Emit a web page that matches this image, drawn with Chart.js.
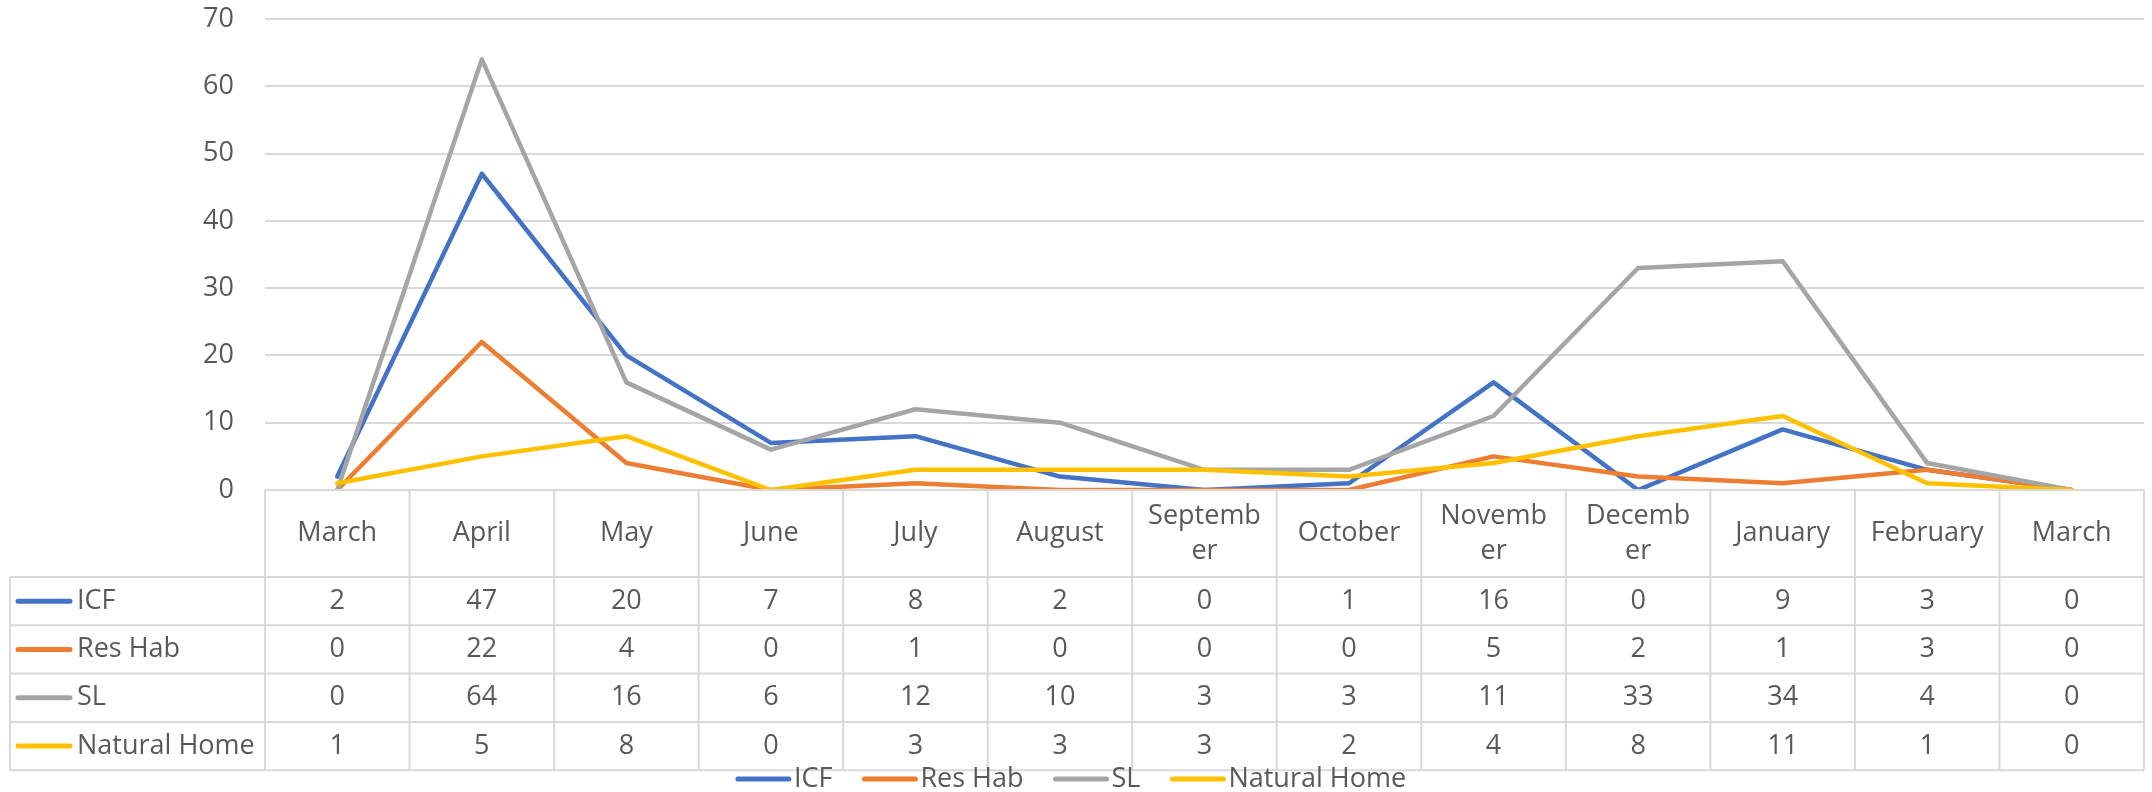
<!DOCTYPE html>
<html>
<head>
<meta charset="utf-8">
<script src="https://cdn.jsdelivr.net/npm/chart.js@4/dist/chart.umd.min.js"></script>
<style>
  html, body { margin:0; padding:0; background:#fff; }
  canvas { display:block; }
</style>
</head>
<body>
<canvas id="chart" width="2152" height="792"></canvas>
<script>
// data
const categories = ["March","April","May","June","July","August",["Septemb","er"],"October",["Novemb","er"],["Decemb","er"],"January","February","March"];
const seriesNames = ["ICF","Res Hab","SL","Natural Home"];
const seriesColors = ["#4472C4","#ED7D31","#A5A5A5","#FFC000"];
const icf = [2,47,20,7,8,2,0,1,16,0,9,3,0];
const resHab = [0,22,4,0,1,0,0,0,5,2,1,3,0];
const sl = [0,64,16,6,12,10,3,3,11,33,34,4,0];
const naturalHome = [1,5,8,0,3,3,3,2,4,8,11,1,0];
const seriesValues = [icf, resHab, sl, naturalHome];
const yTicks = [0,10,20,30,40,50,60,70];

const FONT = "'Open Sans', sans-serif";
const FSIZE = 27;
const TXT = "#595959";
const GRID = "#d9d9d9";

const HEAD_H = 87, ROW_H = 48.3, TABLE_LEFT = 10;

function seg(ctx, x1, y1, x2, y2){
  ctx.beginPath(); ctx.moveTo(x1,y1); ctx.lineTo(x2,y2); ctx.stroke();
}

// excel-like data table under the plot + legend at the bottom
const tablePlugin = {
  id: "dataTable",
  afterDraw(chart){
    const ctx = chart.ctx, a = chart.chartArea, x = chart.scales.x;
    const n = categories.length;
    const half = (x.getPixelForValue(1) - x.getPixelForValue(0)) / 2;
    const top = a.bottom;
    const rowsTop = top + HEAD_H;
    const bottom = rowsTop + ROW_H * seriesNames.length;
    const right = x.getPixelForValue(n-1) + half;

    ctx.save();
    ctx.strokeStyle = GRID;
    ctx.lineWidth = 2;
    seg(ctx, x.getPixelForValue(0) - half, top, right, top);
    for(let i=0;i<=seriesNames.length;i++){
      const y = rowsTop + ROW_H*i;
      seg(ctx, TABLE_LEFT, y, right, y);
    }
    for(let i=0;i<=n;i++){
      const xx = x.getPixelForValue(0) - half + half*2*i;
      seg(ctx, xx, top, xx, bottom);
    }
    seg(ctx, TABLE_LEFT, rowsTop, TABLE_LEFT, bottom);

    ctx.fillStyle = TXT;
    ctx.font = FSIZE + "px " + FONT;
    ctx.textAlign = "center";
    ctx.textBaseline = "middle";
    categories.forEach((c,i)=>{
      const cx = x.getPixelForValue(i);
      const lines = Array.isArray(c) ? c : [c];
      const lh = 35;
      const y0 = top + HEAD_H/2 - (lines.length-1)*lh/2;
      lines.forEach((t,k)=> ctx.fillText(t, cx, y0 + k*lh));
    });
    seriesValues.forEach((vals,s)=>{
      const cy = rowsTop + ROW_H*s + ROW_H/2;
      vals.forEach((v,i)=> ctx.fillText(String(v), x.getPixelForValue(i), cy));
      ctx.strokeStyle = seriesColors[s];
      ctx.lineWidth = 5;
      ctx.lineCap = "round";
      seg(ctx, 18, cy, 70, cy);
      ctx.textAlign = "left";
      ctx.fillText(seriesNames[s], 77, cy);
      ctx.textAlign = "center";
    });

    // legend
    const ly = 779, lineLen = 55, gap = 3, spacing = 30;
    const widths = seriesNames.map(t => ctx.measureText(t).width);
    const total = widths.reduce((s,w)=>s + lineLen + gap + w, 0) + spacing*(seriesNames.length-1);
    let lx = 1071 - total/2;
    ctx.textAlign = "left";
    seriesNames.forEach((t,s)=>{
      ctx.strokeStyle = seriesColors[s];
      ctx.lineWidth = 5;
      seg(ctx, lx+2, ly, lx+lineLen-2, ly);
      ctx.fillText(t, lx + lineLen + gap, ly);
      lx += lineLen + gap + widths[s] + spacing;
    });
    ctx.restore();
  }
};

const datasets = seriesNames.map((name,s)=>({
  label: name,
  data: seriesValues[s],
  borderColor: seriesColors[s],
  backgroundColor: seriesColors[s],
  borderWidth: 4.5,
  pointRadius: 0,
  tension: 0,
  borderJoinStyle: "round",
  borderCapStyle: "round",
  order: seriesNames.length - s
}));

new Chart(document.getElementById("chart"), {
  type: "line",
  data: { labels: categories, datasets },
  options: {
    responsive: false,
    animation: false,
    devicePixelRatio: 1,
    layout: { padding: { top: 19, right: 8, bottom: 22, left: 0 } },
    plugins: { legend: { display:false }, tooltip: { enabled:false } },
    scales: {
      x: {
        offset: true,
        grid: { display:false },
        border: { display:false },
        ticks: { display:false },
        afterFit: s => { s.height = 280; s.paddingLeft = 0; s.paddingRight = 0; }
      },
      y: {
        min: 0, max: 70,
        afterBuildTicks: s => { s.ticks = yTicks.map(v=>({value:v})); },
        grid: { color: GRID, lineWidth: 2, drawTicks:false },
        border: { display:false },
        ticks: { color: TXT, font: { family: FONT, size: FSIZE }, padding: 31 },
        afterFit: s => { s.width = 265; s.paddingTop = 0; s.paddingBottom = 0; }
      }
    }
  },
  plugins: [tablePlugin]
});
</script>
</body>
</html>
